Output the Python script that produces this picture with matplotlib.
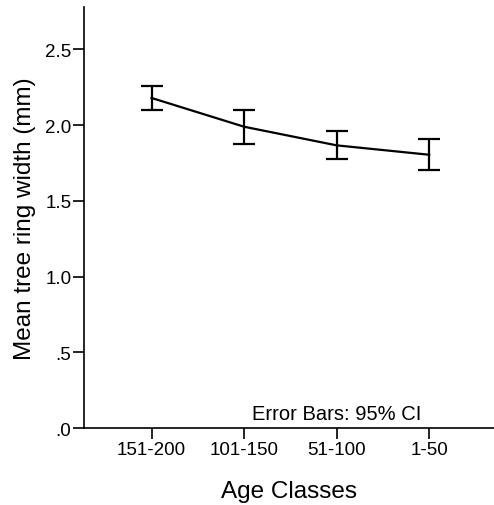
import numpy as np
import matplotlib
matplotlib.use("Agg")
import matplotlib.pyplot as plt

# --- DATA ---
age_classes = ["151-200", "101-150", "51-100", "1-50"]
mean_width = [2.18, 1.99, 1.867, 1.805]
ci_upper = [2.26, 2.10, 1.96, 1.906]
ci_lower = [2.10, 1.875, 1.78, 1.706]
y_ticks = [0.0, 0.5, 1.0, 1.5, 2.0, 2.5]
y_tick_labels = [".0", ".5", "1.0", "1.5", "2.0", "2.5"]

plt.rcParams['font.family'] = ['Liberation Sans', 'DejaVu Sans']

fig = plt.figure(figsize=(4.94, 5.06), dpi=100)
ax = fig.add_axes([0.170, 0.152, 0.830, 0.832])

x = np.arange(len(age_classes))
mean_arr = np.array(mean_width)
yerr = [mean_arr - np.array(ci_lower), np.array(ci_upper) - mean_arr]

ax.errorbar(x, mean_width, yerr=yerr, color="black", lw=1.6,
            elinewidth=1.6, capsize=8, capthick=1.6)

ax.set_xlim(-0.73, 3.70)
ax.set_ylim(0, 2.78)
ax.set_xticks(x)
ax.set_xticklabels(age_classes, fontsize=13.5)
ax.set_yticks(y_ticks)
ax.set_yticklabels(y_tick_labels, fontsize=13.5)

ax.spines["top"].set_visible(False)
ax.spines["right"].set_visible(False)
for s in ("left", "bottom"):
    ax.spines[s].set_linewidth(1.2)
ax.tick_params(axis="both", direction="out", length=8, width=1.2, pad=1)

ax.set_xlabel("Age Classes", fontsize=17.5, labelpad=16)
ax.set_ylabel("Mean tree ring width (mm)", fontsize=17.5, labelpad=7)

ax.text(2.0, 0.035, "Error Bars: 95% CI", fontsize=14.5, ha="center", va="bottom")

fig.savefig("out.png", dpi=100)
